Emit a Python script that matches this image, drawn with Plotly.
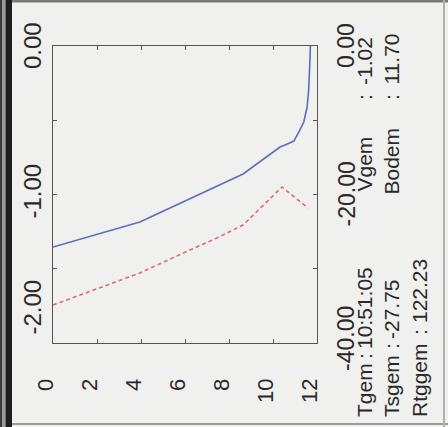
import plotly.graph_objects as go

# ---- data ----
blue_x = [0, 3.95, 8.64, 10.32, 10.55, 10.95, 11.2, 11.4, 11.55, 11.62, 11.68, 11.7]
blue_y = [-1.354, -1.185, -0.862, -0.680, -0.667, -0.640, -0.572, -0.512, -0.411, -0.296, -0.094, 0.0]
red_x = [0, 3.95, 6.23, 7.45, 8.64, 10.41, 11.59]
red_y = [-34.88, -30.57, -27.47, -25.86, -24.11, -18.99, -21.82]

x_tick_vals = [0, 2, 4, 6, 8, 10, 12]
x_tick_labels = ["0", "2", "4", "6", "8", "10", "12"]
left_tick_vals = [0, -1, -2]
left_tick_labels = ["0.00", "-1.00", "-2.00"]
right_tick_vals = [0, -20, -40]
right_tick_labels = ["0.00", "-20.00", "-40.00"]

info_line1 = ["Tgem", ":", "10:51:05", "Vgem", ":", "-1.02"]
info_line2 = ["Tsgem", ":", "-27.75", "Bodem", ":", "11.70"]
info_line3 = ["Rtggem", ":", "122.23"]

# ---- geometry ----
W, H = 448, 427
L, R, T, B = 53, 317, 46, 343


def px(X):
    return (X - L) / (R - L)


def py(Y):
    return (B - Y) / (B - T)


BG = "#f0f0ee"
AX = "#555555"
TXT = "#2a2a2a"
FONT = "Liberation Sans, Arial, sans-serif"

fig = go.Figure()
fig.add_trace(go.Scatter(x=blue_x, y=blue_y, mode="lines",
                         line=dict(color="#5b6fb8", width=1.6), yaxis="y"))
fig.add_trace(go.Scatter(x=red_x, y=red_y, mode="lines",
                         line=dict(color="#e0687a", width=1.6, dash="4px,3px"), yaxis="y2"))

fig.update_layout(
    width=W, height=H,
    margin=dict(l=L, r=W - R, t=T, b=H - B, pad=0),
    paper_bgcolor=BG, plot_bgcolor=BG,
    showlegend=False,
    font=dict(family=FONT, color=TXT),
    xaxis=dict(range=[0, 12], showgrid=False, zeroline=False, showline=True,
               linecolor=AX, linewidth=1, mirror="ticks", ticks="inside", ticklen=4,
               tickcolor=AX, tickvals=[2, 4, 6, 8, 10], showticklabels=False),
    yaxis=dict(range=[-2, 0], showgrid=False, zeroline=False, showline=True,
               linecolor=AX, linewidth=1, ticks="inside", ticklen=4, tickcolor=AX,
               tickvals=[-0.5, -1, -1.5], showticklabels=False),
    yaxis2=dict(range=[-40, 0], overlaying="y", side="right", showgrid=False,
                zeroline=False, showline=True, linecolor=AX, linewidth=1,
                ticks="inside", ticklen=4, tickcolor=AX, tickvals=[-10, -20, -30],
                showticklabels=False),
)

ann = []
# x tick labels (rotated)
for v, t in zip(x_tick_vals, x_tick_labels):
    ann.append(dict(x=v, xref="x", xshift=-8, y=py(377), yref="paper", text=t,
                    textangle=-90, xanchor="center", yanchor="top", showarrow=False,
                    font=dict(size=22, color=TXT)))
# left axis labels
left_shift = {0: ("middle", 0), -1: ("middle", 3), -2: ("bottom", 6)}
for v, t in zip(left_tick_vals, left_tick_labels):
    ya, sh = left_shift[v]
    ann.append(dict(x=px(32), xref="paper", y=v, yref="y", yshift=sh, text=t,
                    textangle=-90, xanchor="center", yanchor=ya, showarrow=False,
                    font=dict(size=24, color=TXT)))
# right axis labels
right_shift = {0: ("middle", 0), -20: ("middle", 0), -40: ("middle", 4)}
for v, t in zip(right_tick_vals, right_tick_labels):
    ya, sh = right_shift[v]
    ann.append(dict(x=px(346), xref="paper", y=v, yref="y2", yshift=sh, text=t,
                    textangle=-90, xanchor="center", yanchor=ya, showarrow=False,
                    font=dict(size=23, color=TXT)))

# info block: (x centre, bottom start y of each piece)
line1_pos = [419, 361, 351, 194, 102, 87]
line2_pos = [419, 351, 341, 197, 102, 87]
line3_pos = [419, 337, 325]
for xc, pieces, starts in [(364, info_line1, line1_pos),
                           (391, info_line2, line2_pos),
                           (419, info_line3, line3_pos)]:
    for t, s in zip(pieces, starts):
        ann.append(dict(x=px(xc), xref="paper", y=py(s), yref="paper", text=t,
                        textangle=-90, xanchor="center", yanchor="bottom",
                        showarrow=False, font=dict(size=21, color=TXT)))

fig.update_layout(annotations=ann)

# scan border decorations
def rect(x0, y0, x1, y1, color):
    return dict(type="rect", xref="paper", yref="paper", x0=px(x0), x1=px(x1),
                y0=py(y1), y1=py(y0), fillcolor=color, line=dict(width=0), layer="above")

fig.update_layout(shapes=[
    rect(0, 0, 2, H, "#3a3a3a"),
    rect(2, 0, 5.5, H, "#9a9a9a"),
    rect(5.5, 0, 12, H, "#1e1e1e"),
    rect(12, 0, W, 2.5, "#7a7a7a"),
    rect(12, 423, W, 425, "#9a9a9a"),
    rect(443, 0, 445, H, "#b0b0b0"),
])

fig.write_html("out.html",
               config={"displayModeBar": False},
               post_script="document.body.style.margin='0';document.body.style.background='#f0f0ee';")
